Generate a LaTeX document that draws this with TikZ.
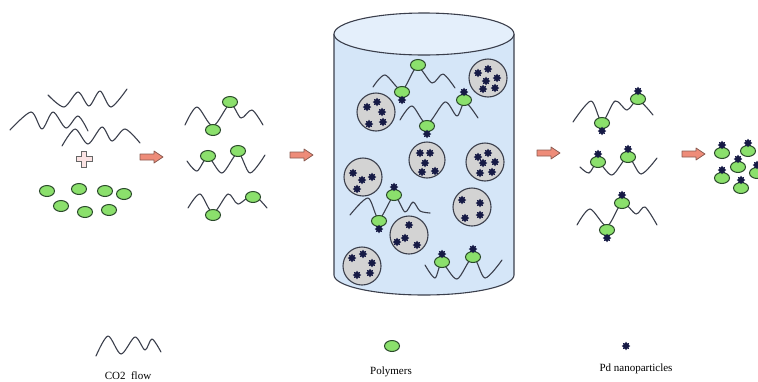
\documentclass[tikz,border=0pt]{standalone}
\usepackage{fontspec}
\setmainfont{Liberation Serif}
\usetikzlibrary{positioning}
\definecolor{bdgreen}{HTML}{8BE06C}
\definecolor{bdedge}{HTML}{2B4A2B}
\definecolor{pdnavy}{HTML}{161A45}
\definecolor{chainink}{HTML}{3B3F4C}
\definecolor{grainfill}{HTML}{D3D3D3}
\definecolor{tankblue}{HTML}{D5E6F8}
\definecolor{tanklid}{HTML}{E4EFFB}
\definecolor{fwdsalmon}{HTML}{EE8C79}
\definecolor{fwdedge}{HTML}{8A5A50}
\definecolor{plusfill}{HTML}{FBE3E3}
% one Pd nanoparticle: a small spiky blob
\newcommand{\pdnano}[2]{%
  \begin{scope}[shift={({#1},{#2})}]
    \fill[pdnavy] (0:4.3) \foreach \k in {1,...,15}{
      -- ({\k*22.5}:{3.55+0.75*cos(\k*180)})} -- cycle;
  \end{scope}}
% one polymer bead
\newcommand{\polybead}[2]{%
  \filldraw[bead] ({#1},{#2}) ellipse[x radius=7.5, y radius=5.5];}
% bead carrying a Pd particle above (#3<0) or below (#3>0)
\newcommand{\pdbead}[3]{%
  \polybead{#1}{#2}
  \pdnano{#1}{#2+#3}}
% grey grain at (#1,#2), radius #3, loaded with Pd at offsets #4
\newcommand{\pdgrain}[4]{%
  \filldraw[grain] ({#1},{#2}) circle[radius=#3];
  \foreach \dx/\dy in {#4}{\pdnano{#1+\dx}{#2+\dy}}}
% block arrow, tail at x=#1, centred on y=#2
\newcommand{\stepper}[2]{%
  \filldraw[fwd] ({#1},{#2-3}) -- ++(14,0) -- ++(0,-3) -- ++(9,6)
    -- ++(-9,6) -- ++(0,-3) -- ++(-14,0) -- cycle;}

\begin{document}
\begin{tikzpicture}[
    x=1pt, y=-1pt,
    % ---- shared styles ---------------------------------------------------
    chain/.style={draw=chainink, line width=1.1pt, line join=round,
                  line cap=round},
    bead/.style={draw=bdedge, fill=bdgreen, line width=1pt},
    grain/.style={draw=chainink, fill=grainfill, line width=1.1pt},
    tank/.style={draw=chainink, fill=tankblue, line width=1.1pt},
    lid/.style={draw=chainink, fill=tanklid, line width=1.1pt},
    fwd/.style={draw=fwdedge, fill=fwdsalmon, line width=0.8pt,
                line join=round},
    lgd/.style={font=\fontsize{11}{13}\selectfont, inner sep=0pt},
  ]
\useasboundingbox (0,0) rectangle (758,381);
\clip (0,0) rectangle (758,381);

% =========================================================================
% LEFT -- CO2 flow plus free polymer
% =========================================================================
\draw[chain] plot[smooth] coordinates {(48,95) (64,107) (78,92) (89,106)
  (100,91) (111,107) (127,89)};
\draw[chain] plot[smooth] coordinates {(10,130) (31,112) (42,129) (53,112)
  (66,128) (78,116) (88,131)};
\draw[chain] plot[smooth] coordinates {(62,146) (75,129) (88,144) (102,127)
  (112,141) (125,129) (140,143)};

\filldraw[draw=gray!80!black, fill=plusfill, line width=0.8pt]
  (81.5,151) -- (86.5,151) -- (86.5,156.5) -- (92,156.5) -- (92,161.5)
  -- (86.5,161.5) -- (86.5,167) -- (81.5,167) -- (81.5,161.5) -- (76,161.5)
  -- (76,156.5) -- (81.5,156.5) -- cycle;

\foreach \bx/\by in {47/191, 79/189, 105/191, 124/194, 61/206, 85/212, 109/210}
  {\polybead{\bx}{\by}}

\stepper{140}{157}

% =========================================================================
% polymer grafted onto the chains
% =========================================================================
\draw[chain] plot[smooth] coordinates {(185,125) (197,107) (213,126)
  (230,104) (241,118) (252,110) (263,125)};
\polybead{213}{130}
\polybead{230}{102}
\draw[chain] plot[smooth] coordinates {(187,161) (197,171) (208,157)
  (222,173) (238,153) (250,173) (265,155)};
\polybead{208}{156}
\polybead{238}{151}
\draw[chain] plot[smooth] coordinates {(188,208) (200,194) (213,213)
  (228,194) (238,204) (253,195) (267,208)};
\polybead{213}{215}
\polybead{253}{197}

\stepper{290}{155}

% =========================================================================
% CENTRE -- the vessel with Pd loaded grains
% =========================================================================
\filldraw[tank] (334,34) -- (334,275)
  arc[start angle=180, end angle=0, x radius=90, y radius=20] -- (514,34);
\filldraw[lid] (424,34) ellipse[x radius=90, y radius=21];

\pdgrain{488}{78}{19}{-10/-5, 0/-9, -2/3, 9/0, -5/11, 7/10}
\pdgrain{376}{112}{19}{-9/-5, 1/-10, 6/0, -7/12, 7/10}
\pdgrain{427}{160}{18}{-7/-7, 3/-7, -2/3, -5/12, 8/11}
\pdgrain{485}{162}{19}{-7/-5, 3/-9, -2/1, 10/0, -5/11, 7/10}
\pdgrain{363}{177}{19}{-10/-4, -1/3, 9/0, -6/12}
\pdgrain{472}{207}{19}{-10/-7, 8/-4, -7/11, 8/8}
\pdgrain{409}{235}{19}{0/-10, -4/3, -12/7, 8/10}
\pdgrain{362}{266}{19}{-10/-8, 1/-12, 10/-3, -5/9, 8/7}

\draw[chain] plot[smooth] coordinates {(373,87) (385,75) (402,90)
  (417,67) (432,83) (443,74) (455,88)};
\pdbead{402}{92}{8}
\polybead{418}{65}
\draw[chain] plot[smooth] coordinates {(400,120) (412,106) (427,124)
  (445,102) (457,116) (465,102) (478,118)};
\pdbead{427}{126}{8}
\pdbead{464}{100}{-8}
\draw[chain] plot[smooth] coordinates {(350,215) (368,198) (379,219)
  (394,196) (405,212) (413,202) (420,211) (430,213)};
\pdbead{379}{221}{8}
\pdbead{394}{195}{-8}
\draw[chain] plot[smooth] coordinates {(425,265) (435,278) (442,263)
  (457,279) (473,257) (485,278) (502,260)};
\pdbead{442}{262}{-8}
\pdbead{473}{257}{-8}

\stepper{537}{153}

% =========================================================================
% RIGHT -- Pd carrying chains, then free Pd/polymer beads
% =========================================================================
\draw[chain] plot[smooth] coordinates {(573,122) (591,101) (602,122)
  (615,101) (627,110) (638,100) (653,115)};
\pdbead{602}{123}{8}
\pdbead{638}{99}{-8}
\draw[chain] plot[smooth] coordinates {(580,167) (589,173) (598,162)
  (612,175) (628,157) (641,174) (657,158)};
\pdbead{598}{162}{-8}
\pdbead{628}{157}{-8}
\draw[chain] plot[smooth] coordinates {(577,225) (590,209) (607,226)
  (622,203) (636,214) (645,207) (657,225)};
\pdbead{607}{230}{8}
\pdbead{622}{203}{-8}

\stepper{682}{154}

\foreach \bx/\by in {722/153, 748/151, 738/167, 722/178, 757/173, 741/188}
  {\pdbead{\bx}{\by}{-8}}

% =========================================================================
% FOOT -- legend
% =========================================================================
\draw[chain] plot[smooth] coordinates {(96,356) (108,336) (121,354)
  (135,337) (145,350) (152,339) (161,352)};
\node[lgd] (co2lbl) at (128,376) {CO2~ flow};
\polybead{392}{346}
\node[lgd] (polylbl) at (391,372) {Polymers};
\pdnano{626}{346}
\node[lgd] (pdlbl) at (636,369) {Pd nanoparticles};

\end{tikzpicture}
\end{document}
